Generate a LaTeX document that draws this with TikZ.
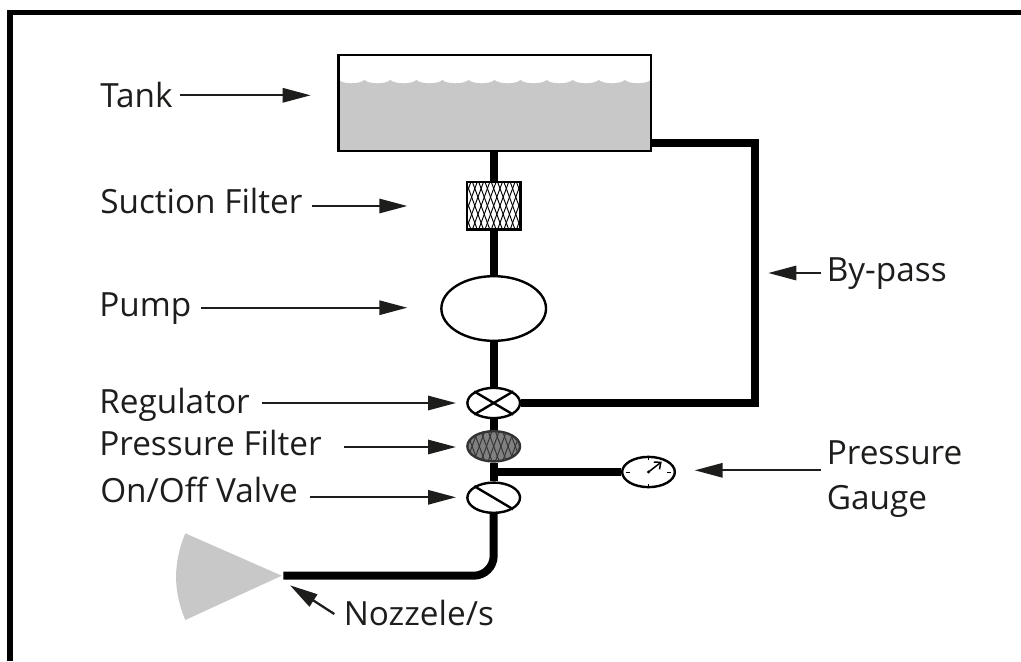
\documentclass[tikz,border=0pt]{standalone}
\usepackage{fontspec}
\setmainfont{Open Sans}
\usetikzlibrary{positioning, arrows.meta, shapes.geometric}
\definecolor{inkBlack}{HTML}{1D1D1B}
\definecolor{waterGrey}{HTML}{C8C8C8}
\definecolor{meshGrey}{HTML}{808080}

\begin{document}
\begin{tikzpicture}[
        x=0.75pt, y=-0.75pt,
        pipe/.style={line width=6pt, draw=black},
        frameline/.style={line width=4.1pt, draw=black},
        pointer/.style={line width=1.7pt, draw=inkBlack, -{Triangle[length=21pt, width=10.7pt, fill=inkBlack]}},
        textlabel/.style={anchor=base west, inner sep=0pt, text=inkBlack, font=\fontsize{25}{34}\selectfont},
        valve/.style={ellipse, draw=black, fill=white, line width=1.8pt, inner sep=0pt, minimum width=39.5pt, minimum height=22.7pt},
        meshlines/.style 2 args={path picture={
            \begin{scope}[shift={(path picture bounding box.center)}]
                \foreach \k in {-8,...,8} {
                    \draw[line width=0.7pt, draw=#1] ({\k*#2-11}, -30) -- ({\k*#2+11}, 30);
                    \draw[line width=0.7pt, draw=#1] ({\k*#2+11}, -30) -- ({\k*#2-11}, 30);
                }
            \end{scope}
        }}
    ]
    \useasboundingbox (0,0) rectangle (1021,661);
    \draw[frameline] (10,661) -- (10,12.5) -- (1021,12.5);

    % tank with its water
    \fill[waterGrey] (339,150) -- (339,80)
        \foreach \i in {0,...,11} {
            .. controls ({338.25+26.05*\i+5}, 84.4) and ({338.25+26.05*\i+21}, 84.4) .. ({338.25+26.05*(\i+1)}, 80)
        } -- (651,150) -- cycle;
    \node (tank) at (494.75,102.7) [draw=black, line width=1.8pt, inner sep=0pt, minimum width=234.4pt, minimum height=72pt] {};

    \node (suction) at (493.7,205.7) [draw=black, fill=white, line width=1.8pt, inner sep=0pt, minimum width=40.3pt, minimum height=35.8pt, meshlines={black}{6.3}] {};
    \node (pump) at (493.7,308.5) [valve, minimum width=78.5pt, minimum height=48.5pt] {};
    \node (regulator) at (493.7,403) [valve] {};
    \node (pressurefilter) at (493.7,446.3) [valve, draw=black!80, fill=meshGrey, meshlines={black!80}{7.2}] {};
    \node (onoff) at (493.7,497.7) [valve] {};
    \node (gauge) at (648.5,472) [valve] {};

    \draw[line width=1.8pt] (regulator.north west) -- (regulator.south east);
    \draw[line width=1.8pt] (regulator.north east) -- (regulator.south west);
    \draw[line width=1.8pt] (onoff.north west) -- (onoff.south east);

    % gauge dial
    \draw[line width=0.6pt] (gauge.north) -- ++(0,4);
    \draw[line width=0.6pt] (gauge.south) -- ++(0,-4);
    \draw[line width=0.6pt] (gauge.west) ++(5,0) -- ++(4,0);
    \draw[line width=0.6pt] (gauge.east) ++(-5,0) -- ++(-4,0);
    \coordinate (needle) at (661.7,461.7);
    \fill (gauge.center) circle (1.2pt);
    \draw[line width=1.1pt, -{Straight Barb[length=4pt, width=7pt]}] (gauge.center) -- (needle);

    % pipes
    \coordinate (outlet) at (652,143);
    \coordinate (corner) at (754.7,403);
    \coordinate (tee) at (493.7,472);
    \coordinate (pipeend) at (283.3,575.7);
    \coordinate (nozzletip) at (281.7,575.7);
    \draw[pipe] (suction.north |- tank.south) -- (suction.north);
    \draw[pipe] (suction.south) -- (pump.north);
    \draw[pipe] (pump.south) -- (regulator.north);
    \draw[pipe] (regulator.south) -- (pressurefilter.north);
    \draw[pipe] (pressurefilter.south) -- (onoff.north);
    \draw[pipe] (tee) -- (gauge.west);
    \draw[pipe] (outlet) -| (corner) -- (regulator.east);
    \draw[pipe, rounded corners=15pt] (onoff.south) |- (pipeend);

    \fill[waterGrey] (nozzletip) -- (185.3,533.3) .. controls (173,563) and (173,591) .. (185.3,620) -- cycle;

    % labels
    \node (lblTank) at (100,107.7) [textlabel] {Tank};
    \node (lblSuction) at (100,213.3) [textlabel] {Suction Filter};
    \node (lblPump) at (99,316.7) [textlabel] {Pump};
    \node (lblRegulator) at (99,413.3) [textlabel] {Regulator};
    \node (lblPressure) at (99,455.3) [textlabel] {Pressure Filter};
    \node (lblOnoff) at (100,502.3) [textlabel] {On/Off Valve};
    \node (lblBypass) at (826.5,281.7) [textlabel] {By-pass};
    \node (lblGauge) at (826.5,479) [textlabel, anchor=west, align=left] {Pressure\\Gauge};
    \node (lblNozzle) at (343.5,625) [textlabel] {Nozzele/s};

    \coordinate (tipTank) at (310.7,95.3);
    \coordinate (tipSuction) at (407.3,206);
    \coordinate (tipPump) at (407.3,307.7);
    \coordinate (tipRegulator) at (456,403);
    \coordinate (tipPressure) at (456,447);
    \coordinate (tipOnoff) at (456,497.3);
    \coordinate (tipBypass) at (768.3,273);
    \coordinate (tipGauge) at (694.7,470.3);
    \coordinate (tipNozzle) at (290,585.3);

    \foreach \name/\gap in {Tank/7, Suction/9, Pump/10, Regulator/12, Pressure/22, Onoff/12}
        \draw[pointer, shorten <=\gap*0.75pt] (lbl\name.east |- tip\name) -- (tip\name);
    \draw[pointer, shorten <=4.5pt] (lblBypass.west |- tipBypass) -- (tipBypass);
    \draw[pointer, shorten <=4.5pt] (lblGauge.west |- tipGauge) -- (tipGauge);
    \draw[pointer] (lblNozzle.west |- 0,614) ++(-9.2,0) coordinate (tailNozzle) -- (tipNozzle);
\end{tikzpicture}
\end{document}
